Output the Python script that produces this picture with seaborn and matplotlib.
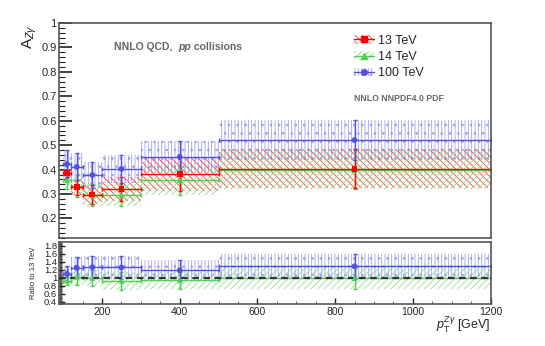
import numpy as np
import pandas as pd
import matplotlib
matplotlib.use("Agg")
import matplotlib.pyplot as plt
import seaborn as sns
from matplotlib.patches import Patch
from matplotlib.lines import Line2D
from matplotlib.ticker import MultipleLocator, FuncFormatter

# pT bins of the Z-gamma system (GeV)
bin_edges = [100, 120, 150, 200, 300, 500, 1200]
pt_centers = [110, 135, 175, 250, 400, 850]

# asymmetry A_Zgamma per bin, with uncertainty
a13 = [0.385, 0.328, 0.298, 0.320, 0.381, 0.404]
a13_err = [0.015, 0.030, 0.040, 0.050, 0.070, 0.080]
a14 = [0.356, 0.335, 0.295, 0.295, 0.356, 0.399]
a14_err = [0.035, 0.045, 0.045, 0.045, 0.060, 0.080]
a100 = [0.423, 0.411, 0.378, 0.403, 0.452, 0.521]
a100_err = [0.056, 0.055, 0.055, 0.058, 0.065, 0.083]

# uncertainties of the ratio to 13 TeV
r14_err = [0.10, 0.20, 0.20, 0.22, 0.22, 0.28]
r100_err = [0.19, 0.26, 0.27, 0.28, 0.27, 0.32]

labels = ["13 TeV", "14 TeV", "100 TeV"]
colors = {"13 TeV": "#ff0000", "14 TeV": "#4fcf4f", "100 TeV": "#5252dc"}
hatch_colors = {"13 TeV": "#ff4040", "14 TeV": "#8fdf8f", "100 TeV": "#a0a0f0"}
hatches = {"13 TeV": "\\\\\\\\\\", "14 TeV": "/////", "100 TeV": "|||||.."}
markers = {"13 TeV": "s", "14 TeV": "^", "100 TeV": "o"}

sns.set_theme(style="ticks")
plt.rcParams["font.family"] = ["Liberation Sans", "DejaVu Sans"]
plt.rcParams["mathtext.fontset"] = "custom"
plt.rcParams["mathtext.rm"] = "Liberation Sans"
plt.rcParams["mathtext.it"] = "Liberation Sans:italic"
plt.rcParams["hatch.linewidth"] = 0.6

edges = np.array(bin_edges)
centers = np.array(pt_centers)
xerr = [centers - edges[:-1], edges[1:] - centers]

top = {"13 TeV": (np.array(a13), np.array(a13_err)),
       "14 TeV": (np.array(a14), np.array(a14_err)),
       "100 TeV": (np.array(a100), np.array(a100_err))}
ratio = {"14 TeV": (np.array(a14) / np.array(a13), np.array(r14_err)),
         "100 TeV": (np.array(a100) / np.array(a13), np.array(r100_err))}

fig = plt.figure(figsize=(5.45, 3.46), dpi=100)
ax = fig.add_axes([0.1088, 0.312, 0.7912, 0.6215])
rax = fig.add_axes([0.1088, 0.1214, 0.7912, 0.1792])


def draw_band(axis, name, y, e):
    lo = np.append(y - e, (y - e)[-1])
    hi = np.append(y + e, (y + e)[-1])
    axis.fill_between(edges, lo, hi, step="post", facecolor="none",
                      edgecolor=hatch_colors[name], linewidth=0, hatch=hatches[name])


def draw_points(axis, data, ms):
    rows = []
    for name, (y, e) in data.items():
        axis.errorbar(centers, y, xerr=xerr, yerr=e, fmt="none", ecolor=colors[name],
                      elinewidth=1.0, capsize=1.5, capthick=1.0)
        for xv, yv in zip(centers, y):
            rows.append({"pt": xv, "A": yv, "energy": name})
    df = pd.DataFrame(rows)
    sns.scatterplot(data=df, x="pt", y="A", hue="energy", style="energy",
                    palette=colors, markers=markers, s=ms, linewidth=0,
                    legend=False, ax=axis, zorder=5)


# top panel
for name in ["100 TeV", "13 TeV", "14 TeV"]:
    draw_band(ax, name, *top[name])
draw_points(ax, {k: top[k] for k in ["14 TeV", "13 TeV", "100 TeV"]}, 17)

ax.set_xlim(90, 1200)
ax.set_ylim(0.12, 1.0)
ax.set_xlabel("")
ax.set_ylabel("")
ax.set_xticks([])
ax.yaxis.set_major_locator(MultipleLocator(0.1))
ax.yaxis.set_minor_locator(MultipleLocator(0.02))
ax.yaxis.set_major_formatter(FuncFormatter(lambda v, p: f"{v:g}"))
ax.tick_params(axis="y", which="major", direction="in", length=9, width=1.2,
               labelsize=8, pad=2, color="#222222")
ax.tick_params(axis="y", which="minor", direction="in", length=4.5, width=0.8, color="#222222")
for s in ax.spines.values():
    s.set_linewidth(1.2)
    s.set_color("#555555")

handles = []
for name in labels:
    patch = Patch(facecolor="none", edgecolor=hatch_colors[name], linewidth=0, hatch=hatches[name])
    line = Line2D([], [], color=colors[name], marker=markers[name], markersize=4, lw=1)
    handles.append((patch, line))
ax.legend(handles, labels, loc="upper left", bbox_to_anchor=(0.67, 0.975), frameon=False,
          fontsize=9, handlelength=1.6, handletextpad=0.3, labelspacing=0.35, borderpad=0)

t1 = ax.text(0.127, 0.888, "NNLO QCD,  ", transform=ax.transAxes, fontsize=7.5,
             fontweight="bold", color="#666666", va="center")
t2 = ax.annotate("pp", xy=(1, 0), xycoords=t1, va="bottom", fontsize=7.5,
                 fontweight="bold", fontstyle="italic", color="#666666")
ax.annotate(" collisions", xy=(1, 0), xycoords=t2, va="bottom", fontsize=7.5,
            fontweight="bold", color="#666666")
ax.text(0.683, 0.651, "NNLO NNPDF4.0 PDF", transform=ax.transAxes, fontsize=6.3,
        fontweight="bold", color="#666666", va="center")

# ratio panel
for name in ["100 TeV", "14 TeV"]:
    draw_band(rax, name, *ratio[name])
rax.axhline(1.0, color="#333333", lw=1.6, ls=(0, (3, 2)), zorder=4)
draw_points(rax, {k: ratio[k] for k in ["14 TeV", "100 TeV"]}, 17)

rax.set_xlim(90, 1200)
rax.set_ylim(0.34, 1.9)
rax.set_xlabel("")
rax.set_ylabel("")
rax.xaxis.set_major_locator(MultipleLocator(200))
rax.xaxis.set_minor_locator(MultipleLocator(50))
rax.yaxis.set_major_locator(MultipleLocator(0.2))
rax.yaxis.set_minor_locator(MultipleLocator(0.02))
rax.yaxis.set_major_formatter(FuncFormatter(lambda v, p: f"{v:g}"))
rax.tick_params(axis="both", which="major", direction="in", length=4, width=1.0,
                labelsize=7.5, pad=2, color="#222222")
rax.tick_params(axis="y", which="major", labelsize=6.8, pad=1.5)
rax.tick_params(axis="both", which="minor", direction="in", length=2.5, width=0.6, color="#444444")
for s in rax.spines.values():
    s.set_linewidth(1.2)
    s.set_color("#555555")

fig.text(0.055, 0.93, r"A$_{Z\gamma}$", rotation=90, ha="center", va="top", fontsize=11)
fig.text(0.061, 0.211, "Ratio to 13 TeV", rotation=90, ha="center", va="center", fontsize=5.5)
fig.text(0.9, 0.06, r"$p_{\mathrm{T}}^{Z\gamma}$ [GeV]", ha="right", va="center", fontsize=9)

fig.savefig("out.png", dpi=100)
